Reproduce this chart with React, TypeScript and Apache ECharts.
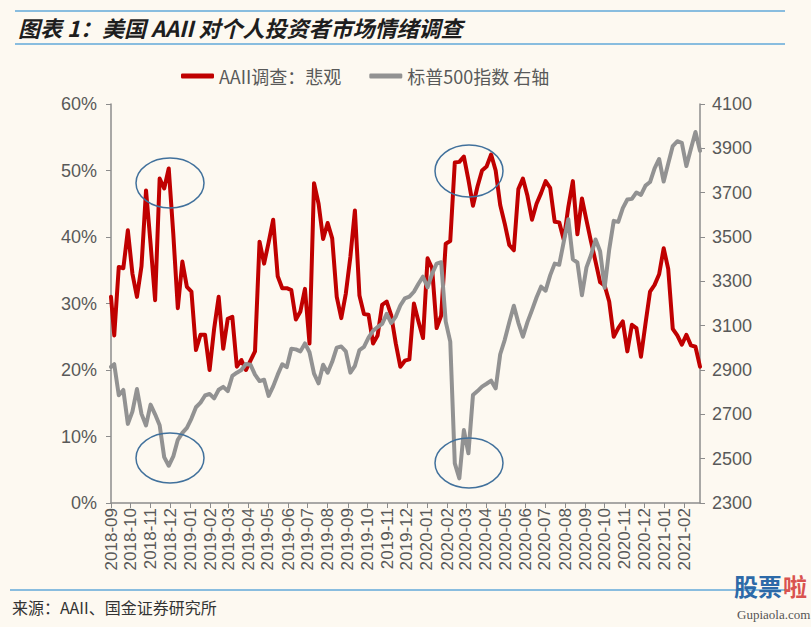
import React, { useEffect, useRef } from 'react';
import * as echarts from 'echarts';

// X-axis month tick labels (ticks fall on the 28th of each month)
const monthLabels = [
  '2018-09', '2018-10', '2018-11', '2018-12',
  '2019-01', '2019-02', '2019-03', '2019-04', '2019-05', '2019-06',
  '2019-07', '2019-08', '2019-09', '2019-10', '2019-11', '2019-12',
  '2020-01', '2020-02', '2020-03', '2020-04', '2020-05', '2020-06',
  '2020-07', '2020-08', '2020-09', '2020-10', '2020-11', '2020-12',
  '2021-01', '2021-02',
];

const firstDate = '2018-09-28';
const firstWeekly = '2018-10-03';
const lastDate = '2021-03-24';
const weeklyCount = 130;

// AAII bearish sentiment (%), first value at 2018-09-28, then weekly
const bearish = [
  31.0,
  25.2, 35.5, 35.3, 41.0, 34.5, 31.0, 35.6, 47.0, 39.0, 30.5,
  48.8, 47.3, 50.3, 40.5, 29.3, 36.3, 32.5, 31.8, 23.0, 25.3,
  25.3, 20.0, 26.2, 31.0, 23.2, 27.7, 28.0, 20.5, 21.5, 20.0,
  21.4, 22.8, 39.3, 36.0, 39.2, 42.6, 34.1, 32.3, 32.3, 32.0,
  27.6, 28.8, 32.2, 24.0, 48.1, 45.0, 39.7, 42.1, 39.8, 31.0,
  27.8, 31.5, 37.0, 44.0, 31.2, 28.4, 28.3, 24.0, 25.2, 29.8,
  30.3, 28.2, 24.0, 20.5, 21.4, 21.6, 30.0, 27.3, 24.8, 36.8,
  35.3, 26.3, 28.2, 39.0, 39.4, 51.2, 51.3, 52.1, 48.6, 44.7,
  47.6, 50.0, 50.6, 52.4, 50.0, 44.8, 42.0, 38.8, 38.0, 47.2,
  48.8, 46.2, 42.6, 45.0, 46.6, 48.4, 47.4, 42.3, 42.2, 39.6,
  44.5, 48.4, 40.4, 45.8, 42.5, 39.3, 36.3, 33.2, 32.7, 30.3,
  25.0, 26.3, 27.3, 22.8, 26.8, 26.3, 22.0, 27.0, 31.8, 32.8,
  34.4, 38.3, 35.2, 26.2, 25.2, 23.8, 25.3, 23.7, 23.5, 20.5,
];

// S&P 500 weekly close (right axis)
const spx = [
  2914,
  2926, 2786, 2810, 2657, 2712, 2814, 2702, 2650, 2744, 2700,
  2651, 2507, 2468, 2510, 2585, 2616, 2639, 2681, 2732, 2753,
  2785, 2792, 2772, 2811, 2824, 2805, 2873, 2888, 2900, 2927,
  2924, 2879, 2850, 2856, 2783, 2826, 2879, 2926, 2913, 2996,
  2993, 2984, 3020, 2980, 2884, 2840, 2924, 2888, 2937, 3001,
  3006, 2984, 2888, 2919, 2990, 3004, 3046, 3077, 3094, 3108,
  3153, 3112, 3141, 3191, 3223, 3231, 3253, 3289, 3321, 3273,
  3334, 3380, 3386, 3118, 3028, 2479, 2411, 2629, 2524, 2787,
  2805, 2825, 2838, 2852, 2817, 2971, 3036, 3115, 3190, 3113,
  3050, 3116, 3170, 3227, 3276, 3258, 3327, 3380, 3375, 3479,
  3580, 3399, 3385, 3237, 3363, 3419, 3489, 3436, 3271, 3443,
  3573, 3568, 3630, 3669, 3672, 3701, 3690, 3732, 3748, 3810,
  3852, 3750, 3831, 3910, 3932, 3925, 3820, 3898, 3974, 3889,
];

const leftTicks = { min: 0, max: 60, interval: 10 };
const rightTicks = { min: 2300, max: 4100, interval: 200 };

const seriesNames = ['AAII调查：悲观', '标普500指数 右轴'];
const titleText = '图表 1：美国 AAII 对个人投资者市场情绪调查';
const sourceText = '来源：AAII、国金证券研究所';

const DAY = 86400000;
function dayNum(s: string): number {
  const [y, m, d] = s.split('-').map(Number);
  return Math.round(Date.UTC(y, m - 1, d) / DAY);
}

export default function App() {
  const ref = useRef<HTMLDivElement>(null);

  useEffect(() => {
    document.body.style.margin = '0';
    document.body.style.background = '#fdf9f1';
    if (!ref.current) return;
    const chart = echarts.init(ref.current, undefined, { renderer: 'svg' });

    const start = dayNum(firstDate);
    const end = dayNum(lastDate);
    const fw = dayNum(firstWeekly);
    const days: number[] = [start];
    for (let i = 0; i < weeklyCount; i++) days.push(fw + 7 * i);
    const tickValues = monthLabels.map((m) => dayNum(m + '-28'));
    const labelFor = (v: number) => {
      const idx = tickValues.findIndex((t) => Math.abs(t - v) < 0.5);
      return idx >= 0 ? monthLabels[idx] : '';
    };

    const axisColor = '#8c8c8c';
    const labelColor = '#595959';
    const numFont = '"Liberation Sans", Arial, sans-serif';
    const cjkFont = '"Noto Sans CJK SC", sans-serif';

    chart.setOption({
      animation: false,
      backgroundColor: '#fdf9f1',
      grid: { left: 111, right: 111, top: 104, bottom: 124, containLabel: false },
      legend: {
        top: 62,
        left: 176,
        itemWidth: 33,
        itemHeight: 5,
        itemGap: 28,
        icon: 'roundRect',
        data: seriesNames,
        textStyle: { fontSize: 18, color: labelColor, fontFamily: cjkFont },
      },
      xAxis: {
        type: 'value',
        min: start,
        max: end,
        scale: true,
        axisLine: { show: true, onZero: false, lineStyle: { color: axisColor, width: 1.5 } },
        axisTick: { show: true, customValues: tickValues, length: 5, lineStyle: { color: axisColor, width: 1 } },
        axisLabel: {
          customValues: tickValues,
          rotate: 90,
          margin: 5,
          fontSize: 17,
          color: labelColor,
          fontFamily: numFont,
          formatter: (v: number) => labelFor(v),
        },
        splitLine: { show: false },
      },
      yAxis: [
        {
          type: 'value',
          ...leftTicks,
          position: 'left',
          axisLine: { show: true, lineStyle: { color: axisColor, width: 1.5 } },
          axisTick: { show: true, length: 5, lineStyle: { color: axisColor } },
          axisLabel: { formatter: '{value}%', fontSize: 18, color: labelColor, fontFamily: numFont, margin: 14 },
          splitLine: { show: false },
        },
        {
          type: 'value',
          ...rightTicks,
          position: 'right',
          axisLine: { show: true, lineStyle: { color: axisColor, width: 1.5 } },
          axisTick: { show: true, length: 5, lineStyle: { color: axisColor } },
          axisLabel: { formatter: (v: number) => String(v), fontSize: 18, color: labelColor, fontFamily: numFont, margin: 12 },
          splitLine: { show: false },
        },
      ],
      series: [
        {
          name: seriesNames[0],
          type: 'line',
          yAxisIndex: 0,
          symbol: 'none',
          data: days.map((d, i) => [d, bearish[i]]),
          lineStyle: { color: '#c00000', width: 4, cap: 'round', join: 'round' },
          itemStyle: { color: '#c00000' },
          z: 2,
        },
        {
          name: seriesNames[1],
          type: 'line',
          yAxisIndex: 1,
          symbol: 'none',
          data: days.map((d, i) => [d, spx[i]]),
          lineStyle: { color: '#929292', width: 4, cap: 'round', join: 'round' },
          itemStyle: { color: '#929292' },
          z: 3,
        },
      ],
      graphic: [
        { type: 'line', shape: { x1: 15, y1: 11, x2: 785, y2: 11 }, style: { stroke: '#62a8d8', lineWidth: 1.5 } },
        { type: 'line', shape: { x1: 15, y1: 44, x2: 785, y2: 44 }, style: { stroke: '#62a8d8', lineWidth: 1.5 } },
        {
          type: 'text', x: 18, y: 27,
          style: { text: titleText, fontSize: 22, fontWeight: 'bold', fontStyle: 'italic', fontFamily: cjkFont, fill: '#1e1e1e', verticalAlign: 'middle' },
        },
        { type: 'line', shape: { x1: 10, y1: 590, x2: 785, y2: 590 }, style: { stroke: '#62a8d8', lineWidth: 1.5 } },
        {
          type: 'text', x: 12, y: 607,
          style: { text: sourceText, fontSize: 16, fontFamily: cjkFont, fill: '#333333', verticalAlign: 'middle' },
        },
        { type: 'ellipse', shape: { cx: 170, cy: 183, rx: 34, ry: 25 }, style: { fill: 'none', stroke: '#41719c', lineWidth: 1.5 }, z: 10 },
        { type: 'ellipse', shape: { cx: 170, cy: 458, rx: 34, ry: 25 }, style: { fill: 'none', stroke: '#41719c', lineWidth: 1.5 }, z: 10 },
        { type: 'ellipse', shape: { cx: 469, cy: 171, rx: 34, ry: 26 }, style: { fill: 'none', stroke: '#41719c', lineWidth: 1.5 }, z: 10 },
        { type: 'ellipse', shape: { cx: 469, cy: 463, rx: 34, ry: 25 }, style: { fill: 'none', stroke: '#41719c', lineWidth: 1.5 }, z: 10 },
        {
          type: 'text', x: 734, y: 585,
          style: { text: '股票', fontSize: 24, fontWeight: 'bold', fontFamily: cjkFont, fill: '#2d6aa8', verticalAlign: 'middle' },
        },
        {
          type: 'text', x: 783, y: 585,
          style: { text: '啦', fontSize: 24, fontWeight: 'bold', fontFamily: cjkFont, fill: '#d9534f', verticalAlign: 'middle' },
        },
        {
          type: 'text', x: 737, y: 614,
          style: { text: 'Gupiaola.com', fontSize: 13, fontFamily: '"Liberation Serif", serif', fill: '#555555', verticalAlign: 'middle' },
        },
      ],
    });

    return () => chart.dispose();
  }, []);

  return (
    <div
      ref={ref}
      style={{ position: 'fixed', left: 0, top: 0, width: 811, height: 627, background: '#fdf9f1' }}
    />
  );
}
